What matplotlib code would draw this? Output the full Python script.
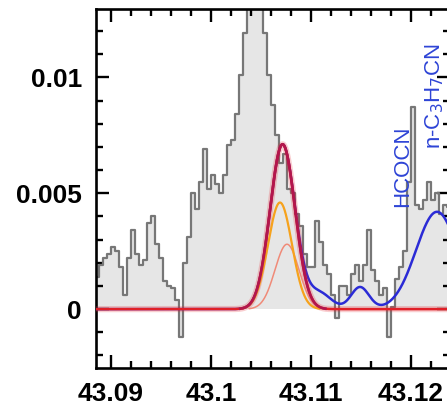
import numpy as np
import matplotlib
matplotlib.use("Agg")
import matplotlib.pyplot as plt
from matplotlib.ticker import MultipleLocator, FuncFormatter

# Observed spectrum: channel fluxes (Jy) on a regular 0.4 MHz grid
chan_start = 43.0886   # GHz, centre of first channel
chan_width = 0.0004    # GHz
flux = [
    0.0014, 0.0019, 0.0022, 0.0024, 0.0027, 0.0025, 0.0018, 0.0006, 0.0022, 0.0034,
    0.0024, 0.0019, 0.0021, 0.0037, 0.0040, 0.0028, 0.0022, 0.0012, 0.0010, 0.0009,
    0.0004, -0.0012, 0.0020, 0.0031, 0.0050, 0.0043, 0.0055, 0.0069, 0.0052, 0.0058,
    0.0054, 0.0050, 0.0058, 0.0071, 0.0073, 0.0084, 0.0101, 0.0119, 0.0135, 0.0141,
    0.0140, 0.0132, 0.0119, 0.0101, 0.0088, 0.0075, 0.0063, 0.0067, 0.0052, 0.0050,
    0.0041, 0.0036, 0.0024, 0.0018, 0.0018, 0.0038, 0.0029, 0.0019, 0.0015, 0.0006,
    -0.0004, 0.0010, 0.0010, 0.0006, 0.0015, 0.0019, 0.0012, 0.0019, 0.0034, 0.0017,
    0.0012, 0.0006, 0.0009, -0.0012, 0.0001, 0.0013, 0.0018, 0.0025, 0.0055, 0.0087,
    0.0045, 0.0043, 0.0047, 0.0055, 0.0047, 0.0050, 0.0041, 0.0045, 0.0044,
]

# LTE model components of the target species: (centre GHz, peak Jy, sigma GHz)
comp_a = (43.1069, 0.0046, 0.0012)
comp_b = (43.1076, 0.0028, 0.0012)
# Other species contributing to the full model
others = [
    (43.1108, 0.0007, 0.0012),
    (43.1149, 0.00095, 0.0009),
    (43.1226, 0.0042, 0.0021),
]

# Species labels: (text, frequency, label base height)
labels = [
    ("HCOCN", 43.1192, 0.0044),
    (r"n-C$_3$H$_7$CN", 43.1224, 0.0069),
]

xmin, xmax = 43.0885, 43.1239
ymin, ymax = -0.00254, 0.01295


def gauss(x, p):
    c, a, s = p
    return a * np.exp(-0.5 * ((x - c) / s) ** 2)


def above_base(y, thresh=2e-5):
    # hide the flat wings so the baseline model shows through
    return np.where(y > thresh, y, np.nan)


plt.rcParams["font.family"] = ["Liberation Sans", "DejaVu Sans"]

W, H = 447, 411
fig = plt.figure(figsize=(W / 100, H / 100), dpi=100)
ax = fig.add_axes([96 / W, 1 - 368 / H, (450 - 96) / W, (368 - 9) / H])

freq = chan_start + chan_width * np.arange(len(flux))
flux = np.array(flux)

ax.fill_between(freq, 0, flux, step="mid", color="#e6e6e6", lw=0, zorder=1)
ax.step(freq, flux, where="mid", color="#777777", lw=1.6, zorder=2)

x = np.linspace(xmin, xmax, 2000)
ga = gauss(x, comp_a)
gb = gauss(x, comp_b)
species = ga + gb
total = species + sum(gauss(x, p) for p in others)

ax.plot(x, total, color="#2b2bd6", lw=1.8, zorder=3)
ax.plot(x, species, color="#e8202a", lw=4.5, alpha=0.22, zorder=4)
ax.plot(x, species, color="#e02028", lw=1.8, zorder=4)
ax.plot(x, above_base(gb), color="#f08a78", lw=1.1, zorder=5)
ax.plot(x, above_base(ga), color="#f6a21c", lw=1.6, zorder=5)
ax.plot(x, above_base(species), color="#b3164c", lw=2.0, zorder=6)

for txt, f, yb in labels:
    ax.text(f, yb, txt, rotation=90, ha="center", va="bottom",
            color="#2e44d6", fontsize=16, zorder=7)

ax.set_xlim(xmin, xmax)
ax.set_ylim(ymin, ymax)

ax.xaxis.set_major_locator(MultipleLocator(0.01))
ax.xaxis.set_minor_locator(MultipleLocator(0.002))
ax.yaxis.set_major_locator(MultipleLocator(0.005))
ax.yaxis.set_minor_locator(MultipleLocator(0.001))
fmt = FuncFormatter(lambda v, pos: format(round(v, 4), "g") if abs(v) > 1e-9 else "0")
ax.xaxis.set_major_formatter(fmt)
ax.yaxis.set_major_formatter(fmt)

for s in ax.spines.values():
    s.set_linewidth(1.9)
ax.tick_params(which="both", direction="in", top=True, right=True, width=1.7)
ax.tick_params(which="major", length=9.5, labelsize=19, pad=10)
ax.tick_params(which="minor", length=5)
for lab in ax.get_xticklabels() + ax.get_yticklabels():
    lab.set_fontweight("bold")

fig.savefig("out.png", dpi=100)
